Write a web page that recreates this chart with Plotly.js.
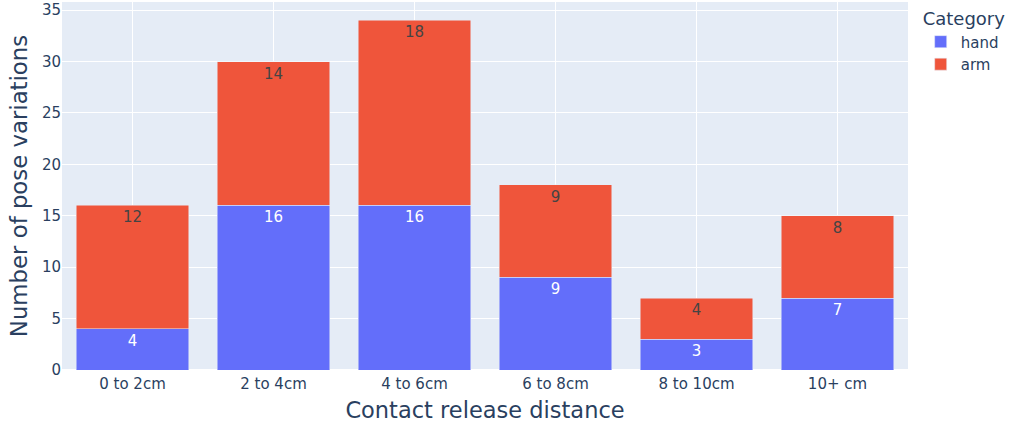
<!DOCTYPE html>
<html><head><meta charset="utf-8">
<script src="https://cdn.plot.ly/plotly-3.0.1.min.js"></script>
<style>html,body{margin:0;padding:0;background:#fff}</style>
</head><body>
<div id="chart" style="width:1011px;height:423px"></div>
<script>
const categories = ["0 to 2cm", "2 to 4cm", "4 to 6cm", "6 to 8cm", "8 to 10cm", "10+ cm"];
const handValues = [4, 16, 16, 9, 3, 7];
const armValues = [12, 14, 18, 9, 4, 8];

const FONT = "DejaVu Sans, Verdana, sans-serif";
const traces = [
  {type: "bar", name: "hand", x: categories, y: handValues, text: handValues.map(String),
   textposition: "inside", insidetextanchor: "end",
   textfont: {family: FONT, size: 15, color: "#ffffff"},
   marker: {color: "#636efa", line: {color: "#E5ECF6", width: 0.5}}},
  {type: "bar", name: "arm", x: categories, y: armValues, text: armValues.map(String),
   textposition: "inside", insidetextanchor: "end",
   textfont: {family: FONT, size: 15, color: "#444444"},
   marker: {color: "#EF553B", line: {color: "#E5ECF6", width: 0.5}}}
];
const layout = {
  barmode: "stack",
  width: 1011, height: 423,
  margin: {l: 62, r: 103, t: 2, b: 53},
  paper_bgcolor: "#ffffff",
  plot_bgcolor: "#E5ECF6",
  font: {family: FONT, color: "#2a3f5f", size: 15},
  xaxis: {title: {text: "Contact release distance", font: {size: 22.5}, standoff: 10},
          tickfont: {size: 15}, gridcolor: "#ffffff", linecolor: "#ffffff", ticks: ""},
  yaxis: {title: {text: "Number of pose variations", font: {size: 22.8}, standoff: 7},
          tickfont: {size: 15}, gridcolor: "#ffffff", zerolinecolor: "#ffffff", zerolinewidth: 2,
          dtick: 5, ticks: ""},
  legend: {title: {text: "Category", font: {size: 18}}, font: {size: 15}, traceorder: "normal",
           tracegroupgap: 0, x: 1.015, y: 1, xanchor: "left", yanchor: "top"},
  showlegend: true
};
Plotly.newPlot("chart", traces, layout, {displayModeBar: false});
</script>
</body></html>
